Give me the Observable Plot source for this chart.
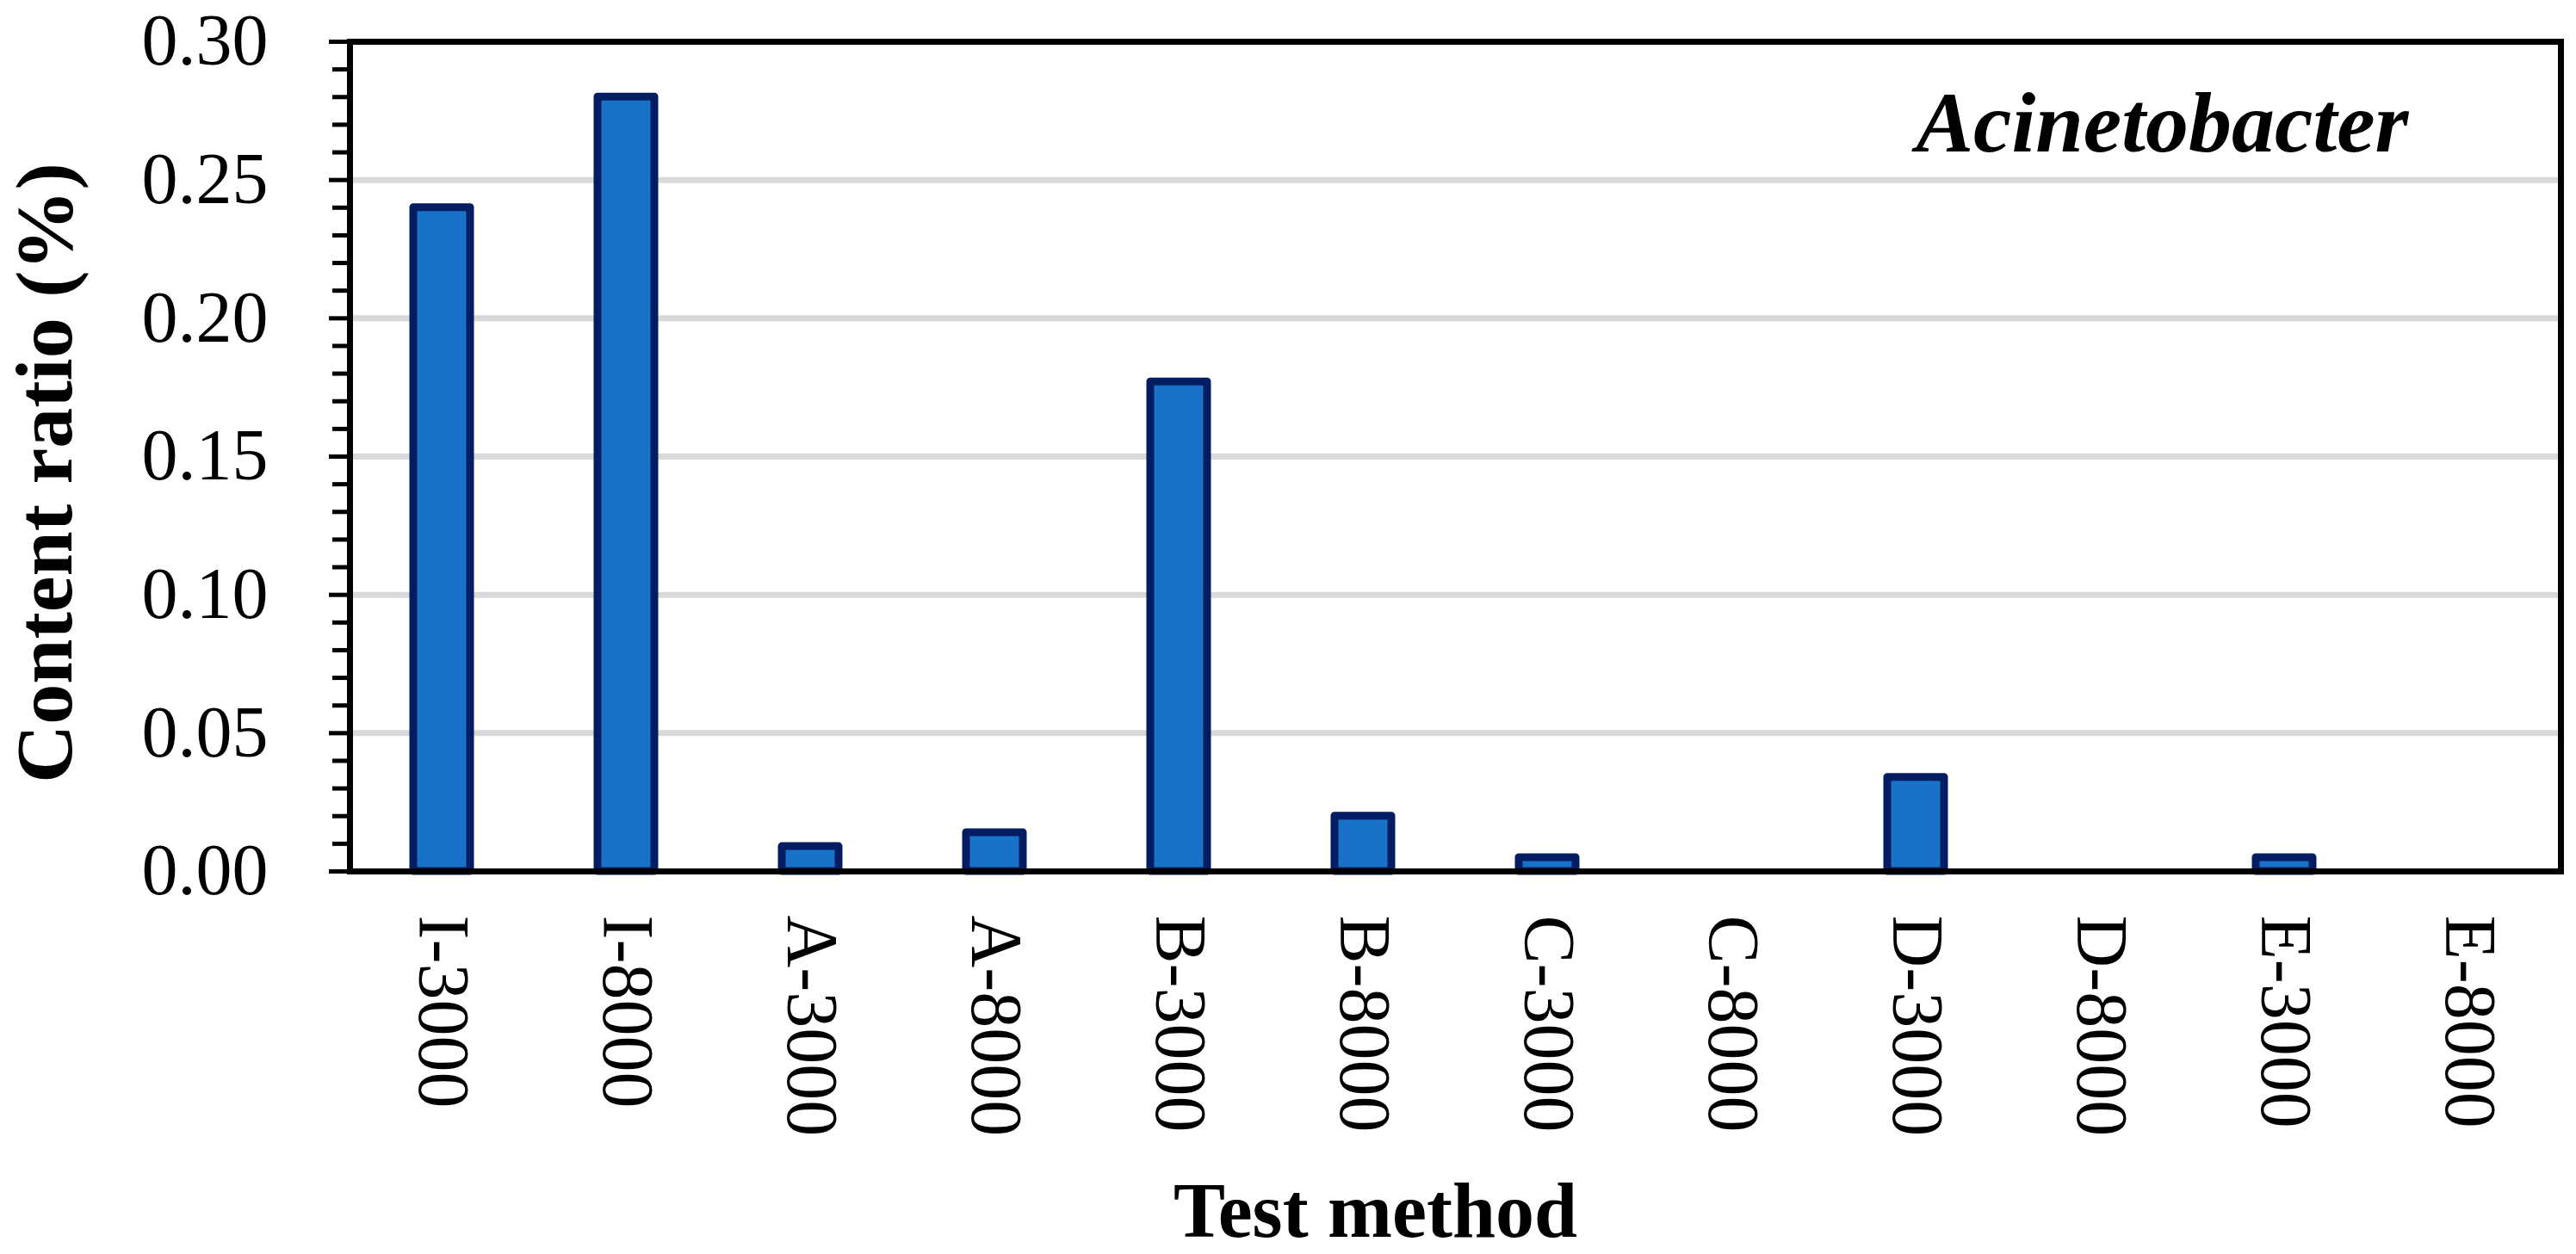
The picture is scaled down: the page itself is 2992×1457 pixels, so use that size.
<!DOCTYPE html>
<html>
<head>
<meta charset="utf-8">
<script src="https://cdn.jsdelivr.net/npm/d3@7"></script>
<script src="https://cdn.jsdelivr.net/npm/@observablehq/plot@0.6"></script>
<style>
  html, body { margin: 0; padding: 0; background: #ffffff; }
  #chart svg { display: block; }
</style>
</head>
<body>
<div id="chart"></div>
<script>
const methods = ["I-3000", "I-8000", "A-3000", "A-8000", "B-3000", "B-8000", "C-3000", "C-8000", "D-3000", "D-8000", "E-3000", "E-8000"];
const contentRatio = [0.240, 0.280, 0.009, 0.014, 0.177, 0.020, 0.005, 0, 0.034, 0, 0.005, 0];
const majorTicks = [0, 0.05, 0.10, 0.15, 0.20, 0.25, 0.30];
const minorTicks = [0.01, 0.02, 0.03, 0.04, 0.06, 0.07, 0.08, 0.09, 0.11, 0.12, 0.13, 0.14, 0.16, 0.17, 0.18, 0.19, 0.21, 0.22, 0.23, 0.24, 0.26, 0.27, 0.28, 0.29];
const gridTicks = [0.05, 0.10, 0.15, 0.20, 0.25];
const yTitle = "Content ratio (%)";
const xTitle = "Test method";
const panelLabel = "Acinetobacter";

const data = methods.map((m, i) => ({method: m, value: contentRatio[i]}));
const serif = "'Liberation Serif', 'Times New Roman', serif";

const chart = Plot.plot({
  width: 2992,
  height: 1457,
  marginLeft: 406,
  marginRight: 18,
  marginTop: 48,
  marginBottom: 445,
  style: {fontFamily: serif, background: "#ffffff", color: "#000000"},
  x: {domain: methods, paddingInner: 0.69, paddingOuter: 0.345, label: null},
  y: {domain: [0, 0.30], label: null},
  marks: [
    Plot.gridY(gridTicks, {stroke: "#d9d9d9", strokeOpacity: 1, strokeWidth: 7}),
    Plot.barY(data, {x: "method", y: "value", fill: "#1872c8", stroke: "#031c62", strokeWidth: 9, strokeLinejoin: "round"}),
    Plot.axisY(minorTicks, {tickSize: 20, strokeWidth: 5, text: null, label: null}),
    Plot.axisY(majorTicks, {tickSize: 24, strokeWidth: 5, tickPadding: 71, tickFormat: d3.format(".2f"), fontSize: 84, fontFamily: serif, label: null}),
    Plot.axisX({tickSize: 0, tickRotate: 90, textAnchor: "start", lineAnchor: "middle", tickPadding: 51, fontSize: 84, fontFamily: serif, label: null}),
    Plot.frame({stroke: "#000000", strokeWidth: 7}),
    Plot.text([yTitle], {text: d => d, frameAnchor: "left", rotate: -90, lineAnchor: "bottom", textAnchor: "middle", dx: -324, dy: 19, fontSize: 94, fontWeight: "bold", fontFamily: serif, fill: "#000000"}),
    Plot.text([xTitle], {text: d => d, frameAnchor: "bottom", lineAnchor: "bottom", textAnchor: "middle", dx: -93, dy: 424, fontSize: 90, fontWeight: "bold", fontFamily: serif, fill: "#000000"}),
    Plot.text([panelLabel], {text: d => d, frameAnchor: "top-right", lineAnchor: "bottom", textAnchor: "end", dx: -177, dy: 127, fontSize: 100, fontWeight: "bold", fontStyle: "italic", fontFamily: serif, fill: "#000000"})
  ]
});
document.getElementById("chart").appendChild(chart);
</script>
</body>
</html>
